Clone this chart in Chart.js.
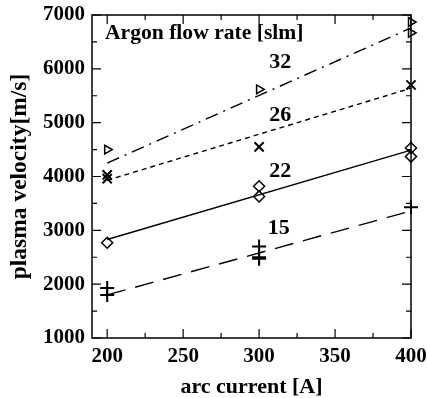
<!DOCTYPE html>
<html>
<head>
<meta charset="utf-8">
<script src="https://cdn.jsdelivr.net/npm/chart.js@4/dist/chart.umd.min.js"></script>
<style>
  html, body { margin: 0; padding: 0; background: #fff; }
  #wrap { width: 427px; height: 398px; }
</style>
</head>
<body>
<div id="wrap"><canvas id="velocityChart" width="427" height="398"></canvas></div>
<script>
// arc current [A] and measured plasma velocity [m/s] per argon flow rate
const xTicks = [200, 250, 300, 350, 400];
const yTicks = [1000, 2000, 3000, 4000, 5000, 6000, 7000];
const flowRates = ['32', '26', '22', '15'];

const current32 = [200, 300, 400, 400];
const velocity32 = [4500, 5620, 6870, 6670];
const current26 = [200, 200, 300, 400];
const velocity26 = [4030, 3960, 4550, 5700];
const current22 = [200, 300, 300, 400, 400];
const velocity22 = [2770, 3820, 3630, 4530, 4370];
const current15 = [200, 200, 300, 300, 300, 400];
const velocity15 = [1930, 1800, 2700, 2500, 2470, 3430];

// linear fits, endpoints at 200 A and 400 A
const fitCurrent = [200, 400];
const fit32 = [4250, 6760];
const fit26 = [3930, 5640];
const fit22 = [2830, 4490];
const fit15 = [1800, 3360];

const font = 'Liberation Serif, Times New Roman, serif';

function pts(xs, ys) { return xs.map((x, i) => ({ x: x, y: ys[i] })); }

function markerSet(xs, ys, style, rot, r, w) {
    return {
        type: 'scatter', data: pts(xs, ys), showLine: false, clip: false,
        pointStyle: style, pointRotation: rot, pointRadius: r,
        borderColor: '#000', backgroundColor: 'rgba(0,0,0,0)', borderWidth: w
    };
}
function fitLine(ys, dash) {
    return {
        type: 'line', data: pts(fitCurrent, ys), showLine: true, clip: false,
        borderColor: '#000', borderWidth: 1.4, borderDash: dash,
        pointRadius: 0, fill: false
    };
}

// inward ticks on all four sides plus the frame, and the text labels
const frameTicks = {
    id: 'frameTicks',
    afterDraw(chart) {
        const ctx = chart.ctx;
        const xs = chart.scales.x, ys = chart.scales.y;
        const a = chart.chartArea;
        ctx.save();
        ctx.strokeStyle = '#000';
        ctx.lineWidth = 1.5;
        ctx.strokeRect(a.left, a.top, a.right - a.left, a.bottom - a.top);
        ctx.lineWidth = 1.2;
        ctx.beginPath();
        for (let v = 200; v <= 400; v += 25) {
            const px = xs.getPixelForValue(v);
            const len = v % 50 === 0 ? 9 : 5;
            ctx.moveTo(px, a.bottom); ctx.lineTo(px, a.bottom - len);
            ctx.moveTo(px, a.top); ctx.lineTo(px, a.top + len);
        }
        for (let v = 1000; v <= 7000; v += 500) {
            const py = ys.getPixelForValue(v);
            const len = v % 1000 === 0 ? 9 : 5;
            ctx.moveTo(a.left, py); ctx.lineTo(a.left + len, py);
            ctx.moveTo(a.right, py); ctx.lineTo(a.right - len, py);
        }
        ctx.stroke();

        ctx.fillStyle = '#000';
        ctx.font = 'bold 21.6px ' + font;
        ctx.textBaseline = 'middle';
        ctx.textAlign = 'left';
        ctx.fillText('Argon flow rate [slm]', a.left + 13, ys.getPixelForValue(6660));
        ctx.font = 'bold 22px ' + font;
        ctx.textAlign = 'center';
        const lx = [314, 314, 314, 313];
        const ly = [6130, 5140, 4100, 3040];
        flowRates.forEach((t, i) => {
            ctx.fillText(t, xs.getPixelForValue(lx[i]), ys.getPixelForValue(ly[i]));
        });
        ctx.restore();
    }
};

new Chart('velocityChart', {
    type: 'scatter',
    data: {
        datasets: [
            markerSet(current32, velocity32, 'triangle', 90, 5, 1.5),
            markerSet(current26, velocity26, 'crossRot', 0, 6.5, 2),
            markerSet(current22, velocity22, 'rectRot', 0, 5.5, 1.5),
            markerSet(current15, velocity15, 'cross', 0, 7, 2),
            fitLine(fit32, [13, 6, 2, 6]),
            fitLine(fit26, [5, 4]),
            fitLine(fit22, []),
            fitLine(fit15, [19, 10])
        ]
    },
    plugins: [frameTicks],
    options: {
        responsive: false,
        animation: false,
        layout: { padding: { top: 15, right: 16, left: 0, bottom: 0 } },
        plugins: { legend: { display: false }, tooltip: { enabled: false } },
        scales: {
            x: {
                type: 'linear', min: 190, max: 400,
                afterBuildTicks: s => { s.ticks = xTicks.map(v => ({ value: v })); },
                afterFit: s => { s.height = 60; s.paddingLeft = 0; s.paddingRight = 0; },
                grid: { display: false, drawTicks: false },
                border: { display: false },
                ticks: { color: '#000', font: { family: font, size: 21, weight: 'bold' }, padding: 6, maxRotation: 0,
                         callback: v => String(v) },
                title: { display: true, text: 'arc current [A]', color: '#000', font: { family: font, size: 22, weight: 'bold' }, padding: { top: 0, bottom: -3 } }
            },
            y: {
                type: 'linear', min: 1000, max: 7000,
                afterBuildTicks: s => { s.ticks = yTicks.map(v => ({ value: v })); },
                afterFit: s => { s.width = 92; s.paddingTop = 0; s.paddingBottom = 0; },
                grid: { display: false, drawTicks: false },
                border: { display: false },
                ticks: { color: '#000', font: { family: font, size: 21, weight: 'bold' }, padding: 7,
                         callback: v => String(v) },
                title: { display: true, text: 'plasma velocity[m/s]', color: '#000', font: { family: font, size: 23.5, weight: 'bold' }, padding: { top: 6, bottom: 0 } }
            }
        }
    }
});
</script>
</body>
</html>
